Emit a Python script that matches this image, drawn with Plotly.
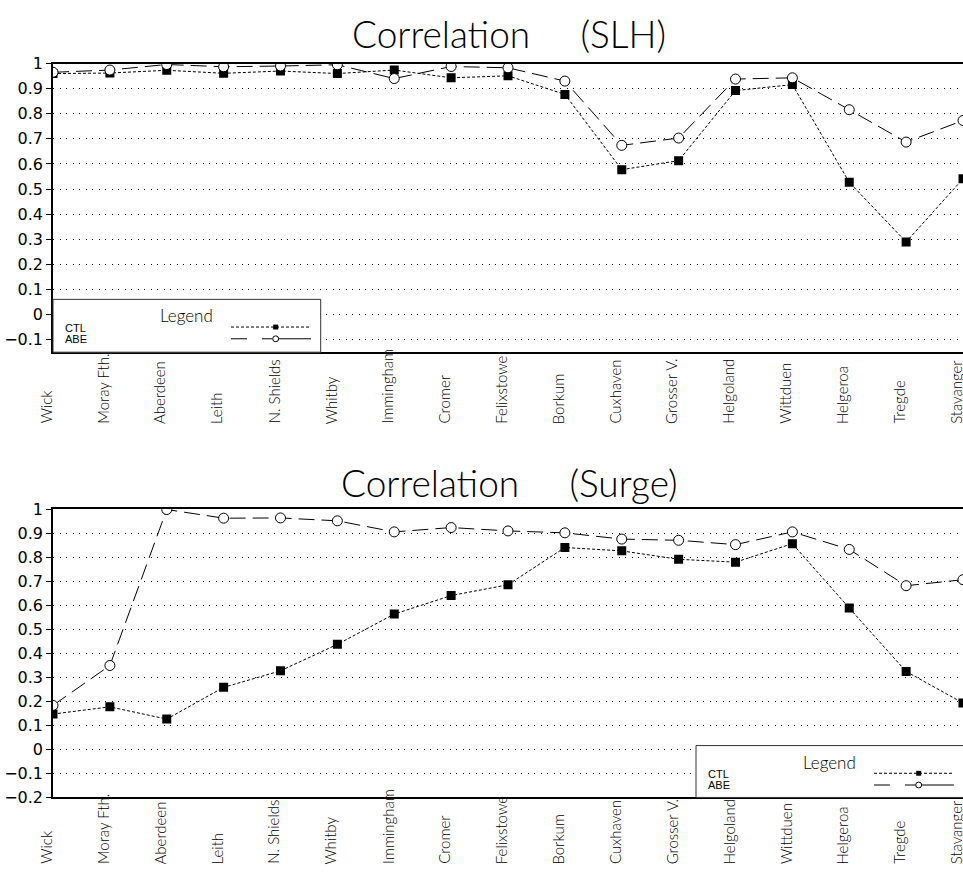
import plotly.graph_objects as go

# ---------------- data ----------------
stations = ["Wick", "Moray Fth.", "Aberdeen", "Leith", "N. Shields", "Whitby",
            "Immingham", "Cromer", "Felixstowe", "Borkum", "Cuxhaven", "Grosser V.",
            "Helgoland", "Wittduen", "Helgeroa", "Tregde", "Stavanger"]

slh_ctl = [0.960, 0.962, 0.973, 0.961, 0.970, 0.960, 0.974, 0.943, 0.951, 0.877,
           0.577, 0.613, 0.892, 0.916, 0.527, 0.289, 0.541]
slh_abe = [0.965, 0.974, 0.996, 0.987, 0.990, 0.995, 0.940, 0.988, 0.983, 0.930,
           0.674, 0.703, 0.938, 0.943, 0.816, 0.687, 0.773]

surge_ctl = [0.147, 0.177, 0.126, 0.258, 0.327, 0.437, 0.563, 0.640, 0.685, 0.840,
             0.826, 0.791, 0.779, 0.856, 0.588, 0.324, 0.193]
surge_abe = [0.183, 0.349, 0.998, 0.962, 0.963, 0.951, 0.905, 0.923, 0.909, 0.901,
             0.875, 0.870, 0.852, 0.905, 0.832, 0.681, 0.706]

ticks_slh = [-0.1, 0, 0.1, 0.2, 0.3, 0.4, 0.5, 0.6, 0.7, 0.8, 0.9, 1]
ticks_surge = [-0.2, -0.1, 0, 0.1, 0.2, 0.3, 0.4, 0.5, 0.6, 0.7, 0.8, 0.9, 1]
series_names = ["CTL", "ABE"]
titles = ["Correlation  (SLH)", "Correlation  (Surge)"]


def fmt(v):
    s = ("%g" % v)
    return s.replace("-", "\u2212")


# ---------------- geometry helpers ----------------
W, H = 963, 887
L = 53


def PX(p):
    return (p - L) / (W - L)


def PY(p):
    return 1 - p / H


idx = list(range(len(stations)))
GRID = "1px,5.5px"
CTL_DASH = "3px,2px"
ABE_DASH = "16px,7px"
THIN = "Lato"
LABEL_FONT = dict(family=THIN, size=15, color="black", weight=300)

fig = go.Figure()

for (ctl, abe, xa, ya) in [(slh_ctl, slh_abe, "x", "y"), (surge_ctl, surge_abe, "x2", "y2")]:
    fig.add_trace(go.Scatter(
        x=idx, y=ctl, mode="lines+markers", name=series_names[0],
        xaxis=xa, yaxis=ya,
        line=dict(color="black", width=1, dash=CTL_DASH),
        marker=dict(symbol="square", size=9, color="black", line=dict(width=0))))
    fig.add_trace(go.Scatter(
        x=idx, y=abe, mode="lines+markers", name=series_names[1],
        xaxis=xa, yaxis=ya,
        line=dict(color="black", width=1, dash=ABE_DASH),
        marker=dict(symbol="circle", size=10, color="white",
                    line=dict(width=1, color="black"))))

xcommon = dict(range=[0, len(stations) - 1], showline=True, mirror=True, linecolor="black",
               linewidth=1.5, showgrid=False, zeroline=False, showticklabels=False, ticks="")
ycommon = dict(showline=True, linecolor="black", linewidth=1.5, ticks="outside", ticklen=5,
               tickcolor="black", showgrid=True, gridcolor="black", gridwidth=1,
               griddash=GRID, zeroline=False,
               tickfont=dict(family="DejaVu Sans", size=16, color="black"))

fig.update_layout(
    width=W, height=H,
    margin=dict(l=L, r=0, t=0, b=0),
    plot_bgcolor="white", paper_bgcolor="white",
    showlegend=False,
    xaxis=dict(domain=[0, 1], anchor="y", **xcommon),
    yaxis=dict(domain=[PY(350.7), PY(55.7)], anchor="x", range=[-0.15, 1.0],
               tickvals=ticks_slh, ticktext=[fmt(v) for v in ticks_slh], **ycommon),
    xaxis2=dict(domain=[0, 1], anchor="y2", **xcommon),
    yaxis2=dict(domain=[PY(805.7), PY(511)], anchor="x2", range=[-0.2, 1.0],
                tickvals=ticks_surge, ticktext=[fmt(v) for v in ticks_surge], **ycommon),
)

annotations = []
shapes = []

# titles (wide gap between words, as in the reference)
for t, ty in zip(titles, [25, 484]):
    word, paren = t.split("  ")
    annotations.append(dict(text=word + "\u00a0" * 5 + paren, x=PX(509), y=PY(ty),
                            xref="paper", yref="paper",
                            xanchor="center", yanchor="middle", showarrow=False,
                            font=dict(family=THIN, size=37, color="black", weight=300)))

# rotated station labels
for xa, ybot in [("x", 426), ("x2", 876)]:
    for i, name in enumerate(stations):
        annotations.append(dict(text=name, x=i, y=PY(ybot), xref=xa, yref="paper",
                                xanchor="center", yanchor="bottom", textangle=-90,
                                showarrow=False, xshift=-7, font=LABEL_FONT))

# legend boxes
for bx, by, bx1, by1 in [(53, 296.7, 320.7, 350.7), (696, 752.7, 975, 805.7)]:
    shapes.append(dict(type="rect", xref="paper", yref="paper",
                       x0=PX(bx), x1=PX(bx1), y0=PY(by1), y1=PY(by),
                       line=dict(color="#333333", width=1), fillcolor="white", layer="above"))
    annotations.append(dict(text="Legend", x=PX(bx + 133), y=PY(by + 17), xref="paper",
                            yref="paper", xanchor="center", yanchor="middle", showarrow=False,
                            font=dict(family=THIN, size=17, color="black", weight=300)))
    for name, dy in zip(series_names, [28.8, 40.3]):
        annotations.append(dict(text=name, x=PX(bx + 10), y=PY(by + dy), xref="paper",
                                yref="paper", xanchor="left", yanchor="middle", showarrow=False,
                                font=dict(family="Liberation Sans", size=11, color="black")))
    # CTL sample
    yc = by + 28.3
    shapes.append(dict(type="line", xref="paper", yref="paper", x0=PX(bx + 178), x1=PX(bx + 258),
                       y0=PY(yc), y1=PY(yc), line=dict(color="black", width=1, dash=CTL_DASH),
                       layer="above"))
    shapes.append(dict(type="rect", xref="paper", yref="paper",
                       x0=PX(bx + 220.2), x1=PX(bx + 225.2), y0=PY(yc + 2.5), y1=PY(yc - 2.5),
                       line=dict(width=0), fillcolor="black", layer="above"))
    # ABE sample
    ya_ = by + 40.3
    for s0, s1 in [(178, 194), (209, 219.5), (226, 258)]:
        shapes.append(dict(type="line", xref="paper", yref="paper", x0=PX(bx + s0), x1=PX(bx + s1),
                           y0=PY(ya_), y1=PY(ya_), line=dict(color="black", width=1),
                           layer="above"))
    shapes.append(dict(type="circle", xref="paper", yref="paper",
                       x0=PX(bx + 219.7), x1=PX(bx + 225.7), y0=PY(ya_ + 3), y1=PY(ya_ - 3),
                       line=dict(color="black", width=1), fillcolor="white", layer="above"))

fig.update_layout(annotations=annotations, shapes=shapes)

fig.write_html("out.html",
               config={"displayModeBar": False},
               post_script="document.body.style.margin='0';document.body.style.padding='0';"
                           "document.body.style.overflow='hidden';")
